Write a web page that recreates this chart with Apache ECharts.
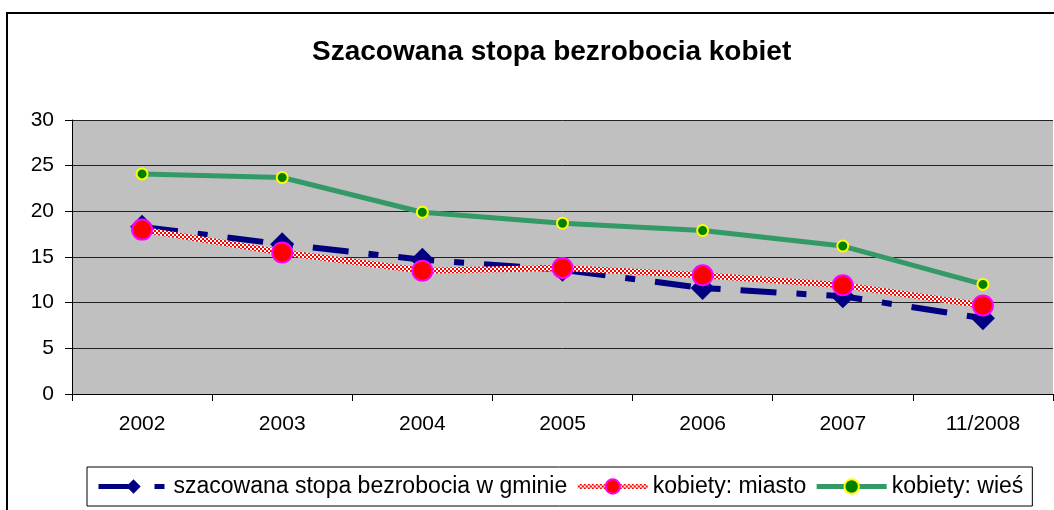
<!DOCTYPE html>
<html>
<head>
<meta charset="utf-8">
<script src="https://cdn.jsdelivr.net/npm/echarts@6/dist/echarts.min.js"></script>
<style>
  html, body { margin: 0; padding: 0; background: #fff; }
  #main { width: 1054px; height: 510px; }
</style>
</head>
<body>
<div id="main"></div>
<script>
// dane
let years = ["2002", "2003", "2004", "2005", "2006", "2007", "11/2008"]
let gmina = [18.3, 16.4, 14.7, 13.6, 11.6, 10.7, 8.3]
let miasto = [18.0, 15.5, 13.5, 13.8, 13.0, 11.9, 9.7]
let wies = [24.1, 23.7, 19.9, 18.7, 17.9, 16.2, 12.0]
let names = ["szacowana stopa bezrobocia w gminie", "kobiety: miasto", "kobiety: wieś"]

// wzór w kratkę dla linii "miasto"
function checker() {
    let c = document.createElement("canvas")
    c.width = 4
    c.height = 4
    let ctx = c.getContext("2d")
    ctx.fillStyle = "#fff"
    ctx.fillRect(0, 0, 4, 4)
    ctx.fillStyle = "#ff0000"
    ctx.fillRect(0, 0, 2, 2)
    ctx.fillRect(2, 2, 2, 2)
    return c
}

var myChart = echarts.init(document.getElementById('main'))
var font = 'Liberation Sans, Arial, sans-serif'

var option = {
    animation: false,
    textStyle: { fontFamily: font },
    title: {
        text: 'Szacowana stopa bezrobocia kobiet',
        left: 307,
        top: 33,
        textStyle: { fontSize: 28, fontWeight: 'bold', color: '#000', fontFamily: font }
    },
    graphic: [{
        type: 'rect',
        shape: { x: 7, y: 13, width: 1100, height: 600 },
        style: { fill: null, stroke: '#000', lineWidth: 2 },
        silent: true
    }],
    grid: {
        left: 72, right: 1, top: 120, bottom: 116,
        show: true, backgroundColor: '#c0c0c0', borderWidth: 0
    },
    legend: {
        bottom: 4,
        left: 87,
        itemGap: 8,
        itemWidth: 70,
        itemHeight: 18,
        padding: [8, 9, 8, 9],
        borderColor: '#000',
        borderWidth: 1,
        backgroundColor: '#fff',
        lineStyle: { width: 5 },
        textStyle: { fontSize: 23, color: '#000', fontFamily: font },
        data: names
    },
    xAxis: {
        type: 'category',
        data: years,
        boundaryGap: true,
        axisLine: { lineStyle: { color: '#000', width: 1 } },
        axisTick: { show: true, length: 7, lineStyle: { color: '#000' } },
        axisLabel: { color: '#000', fontSize: 21, margin: 20 }
    },
    yAxis: {
        type: 'value',
        min: 0, max: 30, interval: 5,
        axisLine: { show: true, lineStyle: { color: '#000', width: 1 } },
        axisTick: { show: true, length: 7, lineStyle: { color: '#000' } },
        axisLabel: { color: '#000', fontSize: 21, margin: 18 },
        splitLine: { lineStyle: { color: '#222', width: 1 } }
    },
    series: [
        {
            name: names[0],
            type: 'line',
            data: gmina,
            symbol: 'diamond',
            symbolSize: 24,
            z: 3,
            itemStyle: { color: '#000080' },
            lineStyle: { color: '#000080', width: 6, type: [36, 20, 10, 20] }
        },
        {
            name: names[1],
            type: 'line',
            data: miasto,
            symbol: 'circle',
            symbolSize: 20,
            z: 4,
            itemStyle: { color: '#ff0000', borderColor: '#ff00ff', borderWidth: 2 },
            lineStyle: { color: { image: checker(), repeat: 'repeat' }, width: 6 }
        },
        {
            name: names[2],
            type: 'line',
            data: wies,
            symbol: 'circle',
            symbolSize: 11,
            z: 5,
            itemStyle: { color: '#008000', borderColor: '#ffff00', borderWidth: 2 },
            lineStyle: { color: '#339966', width: 5 }
        }
    ]
}
myChart.setOption(option)
</script>
</body>
</html>
